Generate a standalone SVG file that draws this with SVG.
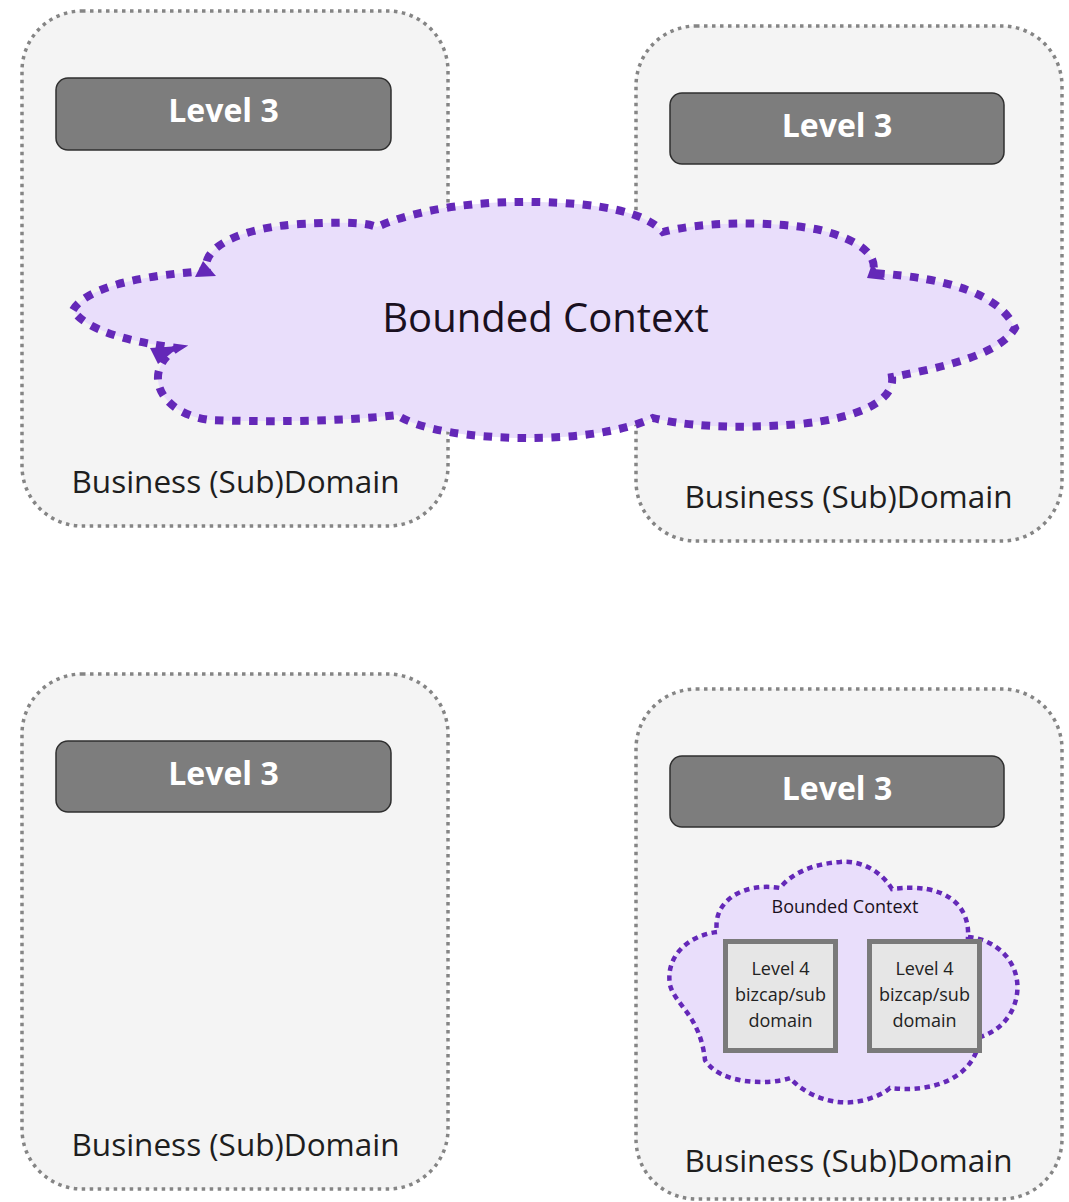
<svg xmlns="http://www.w3.org/2000/svg" width="1069" height="1202" viewBox="0 0 1069 1202">
<style>
.dom{fill:#f4f4f4;stroke:#858585;stroke-width:3.5;stroke-dasharray:3.5 4.5}
.l3{fill:#7d7d7d;stroke:#2f2f2f;stroke-width:1.5}
.l3t{font-family:"Open Sans","Noto Sans",sans-serif;font-weight:bold;font-size:32px;fill:#ffffff;text-anchor:middle}
.dt{font-family:"Open Sans","Noto Sans",sans-serif;font-size:31.5px;fill:#1e1e1e;text-anchor:middle}
.bc{fill:#e9defb;stroke:#6428b8;stroke-width:8;stroke-dasharray:8.5 8.5}
.bcs{fill:#e9defb;stroke:#6428b8;stroke-width:4.5;stroke-dasharray:5.5 4.5}
.bct{font-family:"Open Sans","Noto Sans",sans-serif;fill:#1a1020;text-anchor:middle}
.l4{fill:#e6e6e6;stroke:#7a7a7a;stroke-width:5}
.l4t{font-family:"Open Sans","Noto Sans",sans-serif;font-size:18px;fill:#222;text-anchor:middle}
.ah{fill:#6428b8}
</style>
<rect width="1069" height="1202" fill="#ffffff"/>
<g id="domain-top-left">
<rect class="dom" x="22" y="11" width="426" height="515" rx="60"/>
<text class="dt" x="235.5" y="493">Business (Sub)Domain</text>
</g>
<g id="domain-top-right">
<rect class="dom" x="636" y="26" width="426" height="515" rx="60"/>
<text class="dt" x="848.5" y="508">Business (Sub)Domain</text>
</g>
<g id="domain-bottom-left">
<rect class="dom" x="22" y="674" width="426" height="515" rx="60"/>
<text class="dt" x="235.5" y="1156">Business (Sub)Domain</text>
</g>
<g id="domain-bottom-right">
<rect class="dom" x="636" y="689" width="426" height="510" rx="60"/>
<text class="dt" x="848.5" y="1172">Business (Sub)Domain</text>
</g>
<g id="level3-top-left">
<rect class="l3" x="56" y="78" width="335" height="72" rx="12"/>
<text class="l3t" x="223.5" y="122">Level 3</text>
</g>
<g id="level3-top-right">
<rect class="l3" x="670" y="93" width="334" height="71" rx="12"/>
<text class="l3t" x="837" y="137">Level 3</text>
</g>
<g id="level3-bottom-left">
<rect class="l3" x="56" y="741" width="335" height="71" rx="12"/>
<text class="l3t" x="223.5" y="785">Level 3</text>
</g>
<g id="level3-bottom-right">
<rect class="l3" x="670" y="756" width="334" height="71" rx="12"/>
<text class="l3t" x="837" y="800">Level 3</text>
</g>
<g id="bounded-context-large">
<path class="bc" d="M 73 310 C 85 290, 130 276, 207 271 C 200 250, 235 228, 300 224 C 340 222, 365 222, 377 227 C 420 208, 480 201, 535 202 C 600 203, 645 212, 663 232 C 700 222, 770 220, 820 230 C 860 240, 878 255, 873 273 C 950 278, 1000 295, 1015 328 C 1000 355, 940 368, 892 377 C 895 400, 860 418, 800 424 C 730 430, 680 425, 653 418 C 620 433, 570 438, 530 438 C 470 438, 420 430, 397 415 C 340 422, 260 422, 210 420 C 160 414, 140 372, 177 348 C 130 342, 85 330, 73 310 Z"/>
<polygon class="ah" points="195,277 203,261 216,276"/>
<polygon class="ah" points="180,346 150,348 158,364"/>
<polygon class="ah" points="867,278 872,264 885,280"/>
<text class="bct" x="545.5" y="332" font-size="40">Bounded Context</text>
</g>
<g id="bounded-context-small">
<path class="bcs" d="M 717 932 C 690 935, 665 955, 670 985 C 675 1005, 700 1015, 705 1060 C 720 1085, 770 1085, 790 1078 C 805 1095, 835 1108, 865 1100 C 875 1097, 885 1093, 890 1088 C 930 1093, 975 1080, 980 1037 C 1020 1025, 1030 975, 1000 950 C 990 942, 980 938, 968 937 C 970 905, 945 882, 892 889 C 880 870, 860 860, 840 862 C 810 864, 790 875, 780 888 C 745 882, 712 900, 717 932 Z"/>
<text class="bct" x="845" y="913" font-size="18">Bounded Context</text>
</g>
<g id="level4-left">
<rect class="l4" x="725.5" y="941.5" width="110" height="109"/>
<text class="l4t" x="780.5" y="975">Level 4</text>
<text class="l4t" x="780.5" y="1001">bizcap/sub</text>
<text class="l4t" x="780.5" y="1027">domain</text>
</g>
<g id="level4-right">
<rect class="l4" x="869.5" y="941.5" width="110" height="109"/>
<text class="l4t" x="924.5" y="975">Level 4</text>
<text class="l4t" x="924.5" y="1001">bizcap/sub</text>
<text class="l4t" x="924.5" y="1027">domain</text>
</g>
<g id="connectors"></g>
</svg>
